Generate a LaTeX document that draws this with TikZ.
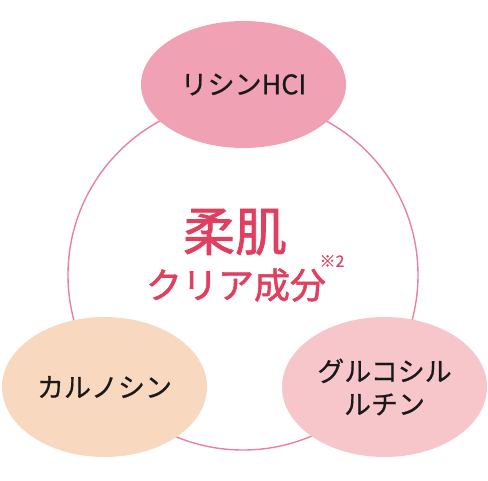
\documentclass[tikz,border=0pt]{standalone}
\usepackage{fontspec}
\usepackage{xcolor}
\usepackage{tikz}
\usetikzlibrary{shapes.geometric}
\newfontfamily\jp{Noto Sans CJK JP}[FakeBold=0.5]
\newfontfamily\jptitle{Noto Sans CJK JP}[FakeBold=1.5]

\definecolor{ringpink}{HTML}{E8819F}
\definecolor{toppink}{HTML}{F0A1B4}
\definecolor{peach}{HTML}{F8D9C0}
\definecolor{lightpink}{HTML}{F7C6CB}
\definecolor{titlered}{HTML}{E0405F}

\tikzset{
  blob/.style={ellipse, minimum width=205pt, minimum height=140pt, inner sep=0pt, align=center,
    font=\jp\fontsize{27}{33}\selectfont, text=black!90}
}

\begin{document}
\begin{tikzpicture}[x=1pt, y=-1pt]
            \useasboundingbox (0,0) rectangle (488,480);
            \draw[ringpink, line width=1.4pt] (243,275) circle (175);

            \node[blob, fill=toppink, minimum height=127pt] (lysine) at (243.5,84.5) {リシンHCI};
            \node[blob, fill=peach] (carnosine) at (104.5,387) {カルノシン};
            \node[blob, fill=lightpink] (rutin) at (384.5,387) {グルコシル\\ルチン};

            \node[text=titlered, font=\jptitle\fontsize{52}{52}\selectfont] (title) at (235,232) {柔肌};
            \node[text=titlered, font=\jptitle\fontsize{36}{36}\selectfont] (subtitle) at (236,285) {クリア成分};
            \node[text=titlered, font=\jp\fontsize{16}{16}\selectfont, inner sep=0pt] (note) at (332,261) {※2};
         \end{tikzpicture}
\end{document}
